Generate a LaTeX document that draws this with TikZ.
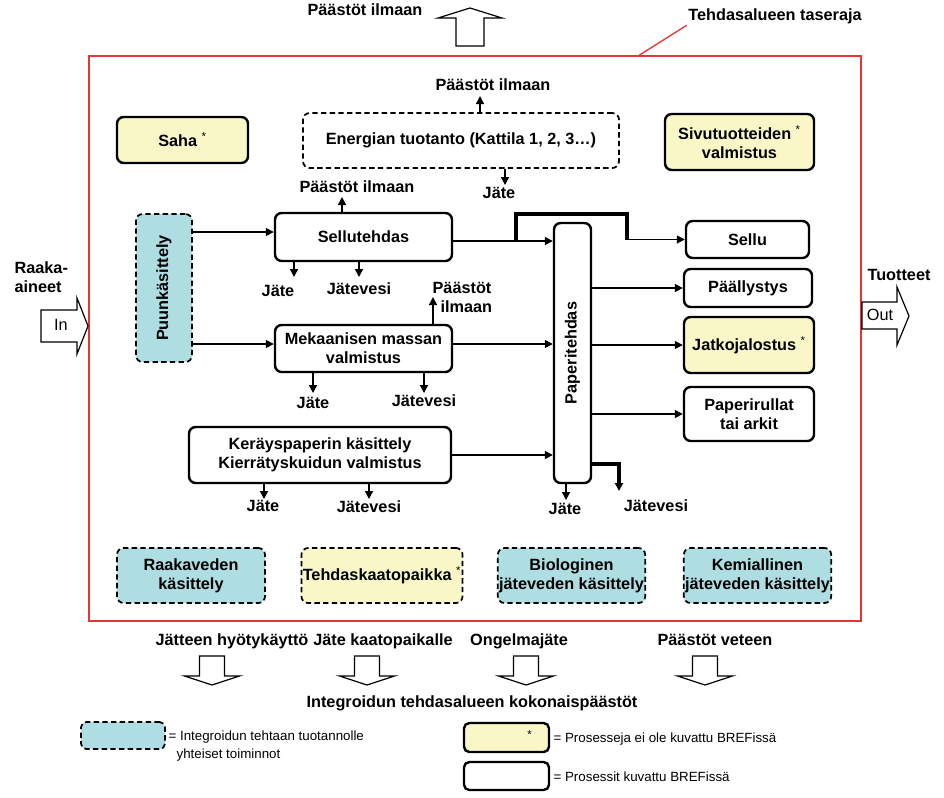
\documentclass[tikz,border=0pt]{standalone}
\usepackage{fontspec}
\setmainfont{Liberation Sans}
\usetikzlibrary{arrows.meta,calc}

\definecolor{rajapuna}{RGB}{232,52,52}
\definecolor{yhteinen}{RGB}{174,221,226}
\definecolor{eikuvattu}{RGB}{249,247,200}

\newcommand{\nstar}{\textsuperscript{\mdseries *}}

\begin{document}
\begin{tikzpicture}[x=0.75pt,y=-0.75pt,
    font=\fontsize{12.2}{14.5}\selectfont\bfseries,
    koko/.style 2 args={minimum width=#1*0.75pt, minimum height=#2*0.75pt},
    prosessi/.style={draw, rounded corners=5pt, line width=1.8pt, fill=white, align=center, inner sep=1pt},
    yhteis/.style={prosessi, dash pattern=on 4pt off 2.5pt, line width=1.3pt, fill=yhteinen},
    muu/.style={prosessi, fill=eikuvattu},
    flow/.style={-{Triangle[length=6pt,width=6pt]}, line width=1.1pt},
    flowthick/.style={flow, line width=2.4pt},
    paasto/.style={inner sep=1pt, text height=9pt, text depth=2.5pt},
    monirivi/.style={inner sep=1pt, align=left},
    iso/.style={draw, line width=0.9pt, fill=white},
  ]
  \useasboundingbox (0,0) rectangle (944,797);

  % tehdasalueen raja
  \draw[rajapuna, line width=1.5pt] (89,56) rectangle (861,621);
  \node [paasto](taseraja) at (775,16) {Tehdasalueen taseraja};
  \coordinate (rajapiste) at (638,56);
  \draw[rajapuna, line width=1pt] (rajapiste) -- (taseraja.south west);

  % isot nuolet
  \draw[iso] (470,8) -- (502,18) -- (484,18) -- (484,46) -- (456,46) -- (456,18) -- (438,18) -- cycle;
  \node [paasto](ilma0) at (365,11) {Päästöt ilmaan};
  \draw[iso] (88,326) -- (77,298) -- (77,310) -- (41,310) -- (41,342) -- (77,342) -- (77,354) -- cycle;
  \node [paasto](in) at (61,326) {\mdseries In};
  \node [monirivi, anchor=west](raaka) at (13,277) {Raaka-\\aineet};
  \draw[iso] (909,316) -- (897,287) -- (897,302) -- (862,302) -- (862,329) -- (897,329) -- (897,345) -- cycle;
  \node [paasto](out) at (880,316) {\mdseries Out};
  \node [paasto](tuotteet) at (899,276) {Tuotteet};
  \foreach \x in {212,367,526,705}
    \draw[iso] (\x-12.5,656) -- (\x+12.5,656) -- (\x+12.5,676) -- (\x+27.5,676) -- (\x,685) -- (\x-27.5,676) -- (\x-12.5,676) -- cycle;

  % prosessit
  \node [muu, koko={131}{46}](saha) at (182.5,140) {Saha \nstar};
  \node [prosessi, dash pattern=on 4pt off 2.5pt, line width=1.3pt, koko={316}{55}](energia) at (461,140.5) {Energian tuotanto (Kattila 1, 2, 3…)};
  \node [muu, koko={149}{56}](sivu) at (739.5,142) {Sivutuotteiden \nstar\\valmistus};
  \node [yhteis, koko={56}{148}](puun) at (164,288) {\rotatebox{90}{Puunkäsittely}};
  \node [prosessi, koko={177}{48}](selluth) at (363.5,237) {Sellutehdas};
  \node [prosessi, koko={177}{47}](mek) at (363.5,348.5) {Mekaanisen massan\\valmistus};
  \node [prosessi, koko={262}{56}](keray) at (320,455) {Keräyspaperin käsittely\\Kierrätyskuidun valmistus};
  \node [prosessi, koko={37}{260}](paperi) at (572.5,353) {\rotatebox{90}{Paperitehdas}};
  \node [prosessi, koko={123}{37}](sellu) at (747.5,239.5) {Sellu};
  \node [prosessi, koko={128}{38}](paall) at (748,288) {Päällystys};
  \node [muu, koko={130}{56}](jatko) at (749,345) {Jatkojalostus \nstar};
  \node [prosessi, koko={130}{54}](rulla) at (749,414) {Paperirullat\\tai arkit};

  \node [yhteis, koko={148}{55}](raakavesi) at (191,575.5) {Raakaveden\\käsittely};
  \node [yhteis, fill=eikuvattu, koko={158}{55}](kaato) at (382,575.5) {Tehdaskaatopaikka \nstar};
  \node [yhteis, koko={147}{55}](bio) at (571.5,575.5) {Biologinen\\jäteveden käsittely};
  \node [yhteis, koko={147}{55}](kemi) at (757.5,575.5) {Kemiallinen\\jäteveden käsittely};

  % päästöt ja jätteet
  \node [paasto](ilma1) at (493,86) {Päästöt ilmaan};
  \node [paasto](jate0) at (499,194) {Jäte};
  \node [paasto](ilma2) at (357,188) {Päästöt ilmaan};
  \node [paasto](jate1) at (278,292) {Jäte};
  \node [paasto](vesi1) at (359,290) {Jätevesi};
  \node [monirivi, anchor=west](ilma3) at (431,297.5) {Päästöt\\\hspace{6pt}ilmaan};
  \node [paasto](jate2) at (313,404) {Jäte};
  \node [paasto](vesi2) at (424,402) {Jätevesi};
  \node [paasto](jate3) at (263,507) {Jäte};
  \node [paasto](vesi3) at (369,508) {Jätevesi};
  \node [paasto](jate4) at (565,510) {Jäte};
  \node [paasto](vesi4) at (656,507) {Jätevesi};

  \coordinate (k1) at (480,96);
  \coordinate (k2) at (505,185);
  \coordinate (k3) at (342,197);
  \coordinate (k4) at (294,277);
  \coordinate (k5) at (359,277);
  \coordinate (k6) at (433,297);
  \coordinate (k7) at (313,393);
  \coordinate (k8) at (424,393);
  \coordinate (k9) at (264,499);
  \coordinate (k10) at (369,499);
  \coordinate (k11) at (566,500);
  \coordinate (haara) at (516,241);
  \coordinate (kulma) at (627,214);
  \coordinate (jvkulma) at (619,464);
  \coordinate (k12) at (619,491);

  \path[flow]
    (energia.north -| k1) edge (k1)
    (energia.south -| k2) edge (k2)
    (selluth.north -| k3) edge (k3)
    (selluth.south -| k4) edge (k4)
    (selluth.south -| k5) edge (k5)
    (mek.north -| k6) edge (k6)
    (mek.south -| k7) edge (k7)
    (mek.south -| k8) edge (k8)
    (keray.south -| k9) edge (k9)
    (keray.south -| k10) edge (k10)
    (paperi.south -| k11) edge (k11)

    ($(puun.east |- selluth.west)+(0,-5)$) edge ($(selluth.west)+(0,-5)$)
    ($(puun.east |- mek.west)+(0,-4.5)$) edge ($(mek.west)+(0,-4.5)$)
    ($(selluth.east)+(0,4)$) edge ($(selluth.east -| paperi.west)+(0,4)$)
    ($(mek.east)+(0,-4.5)$) edge ($(mek.east -| paperi.west)+(0,-4.5)$)
    (keray.east) edge (keray.east -| paperi.west)
    (paperi.east |- paall.west) edge (paall.west)
    (paperi.east |- jatko.west) edge (jatko.west)
    (paperi.east |- rulla.west) edge (rulla.west)
    (kulma |- sellu.west) edge (sellu.west);
  \draw[line width=2.4pt] (haara) |- (kulma) -- (kulma |- sellu.west);
  \draw[flowthick] (paperi.east |- jvkulma) -- (jvkulma) -- (k12);

  % kokonaispäästöt ja selitteet
  \node [paasto](hyoty) at (232,641) {Jätteen hyötykäyttö};
  \node [paasto](kaatop) at (383,641) {Jäte kaatopaikalle};
  \node [paasto](ongelma) at (519,641) {Ongelmajäte};
  \node [paasto](veteen) at (715,641) {Päästöt veteen};
  \node [paasto](kokonais) at (472,703) {Integroidun tehdasalueen kokonaispäästöt};

  \node [yhteis, rounded corners=4pt, koko={84}{27}](sel1) at (123,735.5) {};
  \node [monirivi, anchor=west, font=\fontsize{10}{13.5}\selectfont\mdseries](sel1t) at (167,746) {= Integroidun tehtaan tuotannolle\\\hspace{6pt}yhteiset toiminnot};
  \node [muu, rounded corners=4pt, koko={85}{29}](sel2) at (506.5,737.5) {\hspace*{35pt}\textsuperscript{\mdseries *}};
  \node [monirivi, anchor=west, font=\fontsize{10}{12}\selectfont\mdseries](sel2t) at (552,739) {= Prosesseja ei ole kuvattu BREFissä};
  \node [prosessi, rounded corners=4pt, koko={85}{28}](sel3) at (506.5,776) {};
  \node [monirivi, anchor=west, font=\fontsize{10}{12}\selectfont\mdseries](sel3t) at (552,777) {= Prosessit kuvattu BREFissä};
\end{tikzpicture}
\end{document}
